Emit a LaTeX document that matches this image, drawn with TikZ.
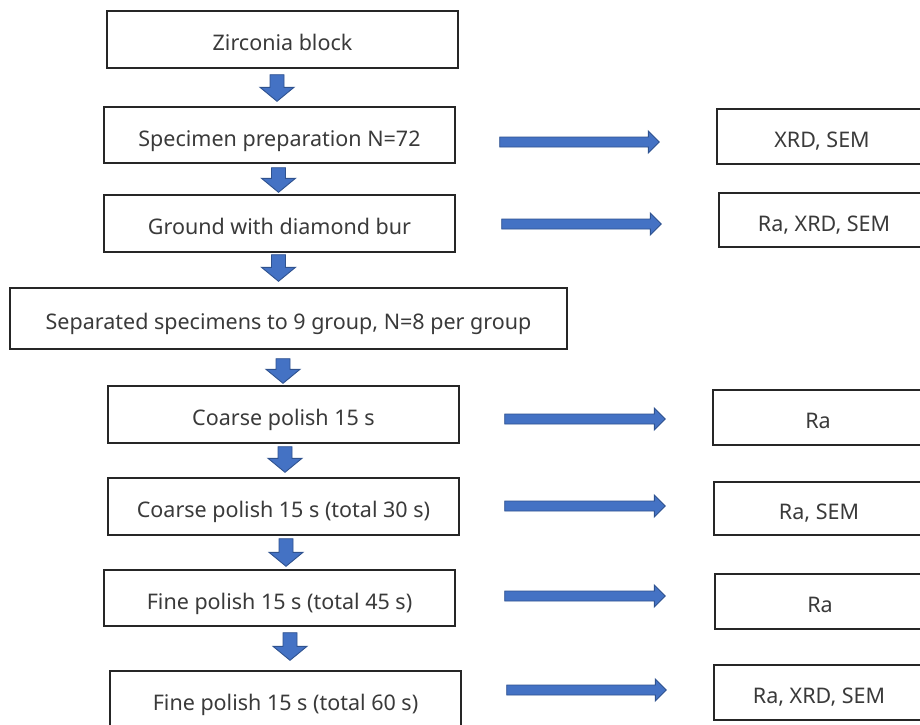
\documentclass[tikz,border=0pt]{standalone}
\usepackage{fontspec}
\setmainfont{Noto Sans}
\usetikzlibrary{calc}
\definecolor{arrfill}{HTML}{4472C4}
\definecolor{arredge}{HTML}{2F528F}
\definecolor{txt}{HTML}{3A3A3A}
\tikzset{
  box/.style={draw=black!85, line width=1.4pt, inner sep=0pt, align=center,
    text height=22pt, text depth=0pt,
    text=txt, font=\fontsize{21.5}{25}\selectfont},
  blk/.style={fill=arrfill, draw=arredge, line width=0.9pt, line join=miter},
}
\newcommand{\hblock}[2]{\filldraw[blk] ($(#1)+(0,-5)$) -- ($(#2)+(-11,-5)$) -- ($(#2)+(-11,-11)$) -- (#2) -- ($(#2)+(-11,11)$) -- ($(#2)+(-11,5)$) -- ($(#1)+(0,5)$) -- cycle;}
\newcommand{\vblock}[2]{\filldraw[blk] ($(#1)+(-7,0)$) -- ($(#2)+(-7,-14)$) -- ($(#2)+(-17,-14)$) -- (#2) -- ($(#2)+(17,-14)$) -- ($(#2)+(7,-14)$) -- ($(#1)+(7,0)$) -- cycle;}
\begin{document}
\begin{tikzpicture}[x=1pt,y=-1pt]
\path[use as bounding box, fill=white] (0,0) rectangle (920,724);
\begin{scope}
\clip (0,0) rectangle (920,724);
% main column
\node[box, minimum width=351, minimum height=57] (b1) at (282.5,39.5) {Zirconia block};
\node[box, minimum width=351, minimum height=56] (b2) at (279.5,135) {Specimen preparation N=72};
\node[box, minimum width=351, minimum height=57] (b3) at (279.5,223.5) {Ground with diamond bur};
\node[box, minimum width=557, minimum height=61] (b4) at (288.5,318.5) {Separated specimens to 9 group, N=8 per group};
\node[box, minimum width=351, minimum height=57] (b5) at (283.5,414.5) {Coarse polish 15 s};
\node[box, minimum width=351, minimum height=57] (b6) at (283.5,506.5) {Coarse polish 15 s (total 30 s)};
\node[box, minimum width=351, minimum height=56] (b7) at (279.5,598) {Fine polish 15 s (total 45 s)};
\node[box, minimum width=351, minimum height=57] (b8) at (285.5,699.5) {Fine polish 15 s (total 60 s)};
% right column
\node[box, minimum width=210, minimum height=55] (r1) at (822,136.5) {XRD, SEM};
\node[box, minimum width=210, minimum height=54] (r2) at (824,220) {Ra, XRD, SEM};
\node[box, minimum width=210, minimum height=55] (r3) at (818,417.5) {Ra};
\node[box, minimum width=210, minimum height=53] (r4) at (819,508.5) {Ra, SEM};
\node[box, minimum width=210, minimum height=55] (r5) at (820,601.5) {Ra};
\node[box, minimum width=210, minimum height=55] (r6) at (819,692.5) {Ra, XRD, SEM};
\end{scope}
% down arrows
\path ($(b1.south)+(-5.5,6)$) coordinate (v1s); \path ($(v1s |- b2.north)+(0,-5)$) coordinate (v1e);
\path ($(b2.south)+(-1,4)$) coordinate (v2s); \path ($(v2s |- b3.north)+(0,-2)$) coordinate (v2e);
\path ($(b3.south)+(-1,2)$) coordinate (v3s); \path ($(v3s |- b4.north)+(0,-6)$) coordinate (v3e);
\path ($(b4.south)+(-5.5,9)$) coordinate (v4s); \path ($(v4s |- b5.north)+(0,-2)$) coordinate (v4e);
\path ($(b5.south)+(1.5,3)$) coordinate (v5s); \path ($(v5s |- b6.north)+(0,-5)$) coordinate (v5e);
\path ($(b6.south)+(2.5,3)$) coordinate (v6s); \path ($(v6s |- b7.north)+(0,-3)$) coordinate (v6e);
\path ($(b7.south)+(10.5,6)$) coordinate (v7s); \path ($(v7s |- b8.north)+(0,-10)$) coordinate (v7e);
\vblock{v1s}{v1e}
\vblock{v2s}{v2e}
\vblock{v3s}{v3e}
\vblock{v4s}{v4e}
\vblock{v5s}{v5e}
\vblock{v6s}{v6e}
\vblock{v7s}{v7e}
% side arrows
\path ($(b2.east)+(44,7)$) coordinate (h1s); \path ($(h1s -| r1.west)+(-57,0)$) coordinate (h1e);
\path ($(b3.east)+(46,0.5)$) coordinate (h2s); \path ($(h2s -| r2.west)+(-57,0)$) coordinate (h2e);
\path ($(b5.east)+(45,4.5)$) coordinate (h3s); \path ($(h3s -| r3.west)+(-47,0)$) coordinate (h3e);
\path ($(b6.east)+(45,-0.5)$) coordinate (h4s); \path ($(h4s -| r4.west)+(-48,0)$) coordinate (h4e);
\path ($(b7.east)+(49,-2)$) coordinate (h5s); \path ($(h5s -| r5.west)+(-49,0)$) coordinate (h5e);
\path ($(b8.east)+(45,-9.5)$) coordinate (h6s); \path ($(h6s -| r6.west)+(-47,0)$) coordinate (h6e);
\hblock{h1s}{h1e}
\hblock{h2s}{h2e}
\hblock{h3s}{h3e}
\hblock{h4s}{h4e}
\hblock{h5s}{h5e}
\hblock{h6s}{h6e}
\end{tikzpicture}
\end{document}
